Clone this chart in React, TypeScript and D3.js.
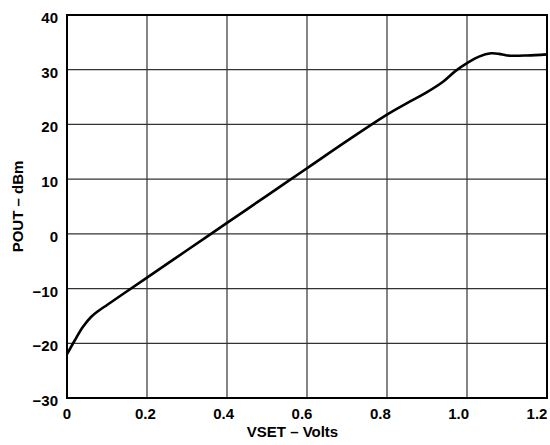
import React from "react";
import * as d3 from "d3";

const vset: number[] = [0, 0.02, 0.04, 0.06, 0.08, 0.1, 0.14, 0.2, 0.3, 0.4, 0.5, 0.6, 0.7, 0.8, 0.85, 0.9, 0.94, 0.97, 1.0, 1.03, 1.06, 1.08, 1.1, 1.15, 1.2];
const pout: number[] = [-22, -19.4, -17.0, -15.2, -14.0, -13.0, -11.0, -8.0, -3.0, 2.0, 7.0, 12.0, 17.0, 21.8, 23.9, 25.9, 27.8, 29.7, 31.2, 32.4, 33.0, 32.9, 32.6, 32.6, 32.8];

const xTicks: number[] = [0, 0.2, 0.4, 0.6, 0.8, 1.0, 1.2];
const xTickLabels: string[] = ["0", "0.2", "0.4", "0.6", "0.8", "1.0", "1.2"];
const yTicks: number[] = [-30, -20, -10, 0, 10, 20, 30, 40];
const yTickLabels: string[] = ["\u221230", "\u221220", "\u221210", "0", "10", "20", "30", "40"];

const W = 550, H = 445;
const left = 67, right = 547, top = 15, bottom = 398;

export default function App() {
  const x = d3.scaleLinear().domain([0, 1.2]).range([left, right]);
  const xLab = d3.scaleLinear().domain([0, 1.2]).range([left, 537]);
  const y = d3.scaleLinear().domain([-30, 40]).range([bottom, top]);
  const pts: [number, number][] = vset.map((v, i) => [v, pout[i]]);
  const line = d3.line<[number, number]>().x(d => x(d[0])).y(d => y(d[1])).curve(d3.curveCatmullRom.alpha(0.5));
  const font = "'Liberation Sans', Arial, sans-serif";
  return (
    <svg width={W} height={H} style={{ position: "absolute", left: 0, top: 0, background: "#fff" }}>
      <rect x={0} y={0} width={W} height={H} fill="#fff" />
      {xTicks.map(t => (
        <line key={"gx" + t} x1={x(t)} x2={x(t)} y1={top} y2={bottom} stroke="#333" strokeWidth={1.2} />
      ))}
      {yTicks.map(t => (
        <line key={"gy" + t} x1={left} x2={right} y1={y(t)} y2={y(t)} stroke="#333" strokeWidth={1.2} />
      ))}
      <rect x={left} y={top} width={right - left} height={bottom - top} fill="none" stroke="#000" strokeWidth={2} />
      <path d={line(pts) || ""} fill="none" stroke="#000" strokeWidth={2.6} strokeLinejoin="round" />
      {xTicks.map((t, i) => (
        <text key={"xl" + t} x={xLab(t)} y={419} textAnchor="middle" fontFamily={font} fontWeight="bold" fontSize={15} fill="#000">
          {xTickLabels[i]}
        </text>
      ))}
      {yTicks.map((t, i) => (
        <text key={"yl" + t} x={58} y={y(t) + 8} textAnchor="end" fontFamily={font} fontWeight="bold" fontSize={15} fill="#000">
          {yTickLabels[i]}
        </text>
      ))}
      <text x={292.5} y={437} textAnchor="middle" fontFamily={font} fontWeight="bold" fontSize={15} fill="#000">
        VSET – Volts
      </text>
      <text transform={`translate(23, ${(top + bottom) / 2}) rotate(-90)`} textAnchor="middle" fontFamily={font} fontWeight="bold" fontSize={15} fill="#000">
        POUT – dBm
      </text>
    </svg>
  );
}
